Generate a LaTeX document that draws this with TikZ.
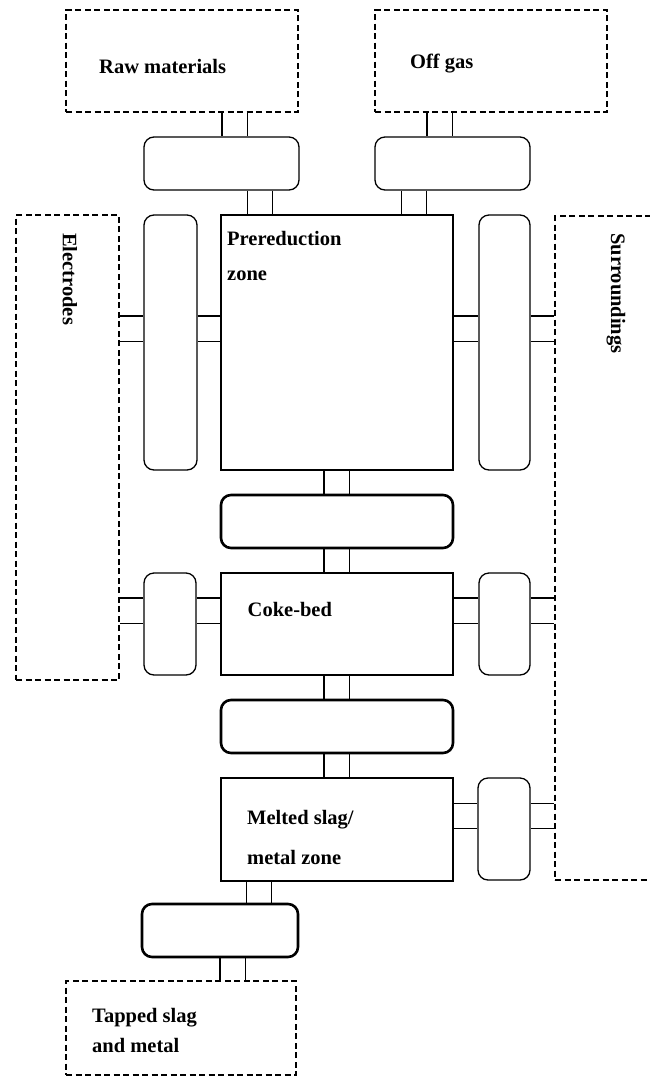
\documentclass[tikz,border=0pt]{standalone}
\usepackage{fontspec}
\setmainfont{Liberation Serif}
\usetikzlibrary{backgrounds}
\begin{document}
\begin{tikzpicture}[x=1pt, y=-1pt,
    box/.style 2 args={minimum width=#1pt, minimum height=#2pt, inner sep=0pt},
    zone/.style={draw, line width=2.6pt},
    valve/.style={draw, rounded corners=10pt, line width=1.3pt},
    thickvalve/.style={valve, line width=2.6pt},
    outside/.style={draw, dash pattern=on 6pt off 3.5pt, line width=1.5pt},
    pipe/.style={draw, double, line width=1.3pt, double distance=24pt},
    lbl/.style={font=\fontsize{20.5}{24}\selectfont\bfseries, inner sep=0pt, anchor=base west}]

    \useasboundingbox (0,0) rectangle (650,1077);

    % Outside boxes (dashed)
    \node[outside, box={232}{102}] (raw) at (182,61) {};
    \node[outside, box={232}{102}] (gas) at (491,61) {};
    \node[outside, box={103}{465}] (elec) at (67.5,447.5) {};
    \node[outside, box={115}{664}] (surr) at (612.5,548) {};
    \node[outside, box={230}{94}] (tap) at (181,1028) {};

    % Zones
    \node[zone, box={232}{255}] (pre) at (337,342.5) {};
    \node[zone, box={232}{102}] (coke) at (337,624) {};
    \node[zone, box={232}{103}] (melt) at (337,829.5) {};

    % Rounded boxes between the zones
    \node[valve, box={155}{53}] (topL) at (221.5,163.5) {};
    \node[valve, box={155}{53}] (topR) at (452.5,163.5) {};
    \node[valve, box={53}{255}] (sideL) at (170.5,342.5) {};
    \node[valve, box={51}{255}] (sideR) at (504.5,342.5) {};
    \node[valve, box={52}{102}] (cokeL) at (170,624) {};
    \node[valve, box={51}{102}] (cokeR) at (504.5,624) {};
    \node[valve, box={52}{102}] (meltR) at (504,829) {};
    \node[thickvalve, box={232}{53}] (mid1) at (337,521.5) {};
    \node[thickvalve, box={232}{53}] (mid2) at (337,726.5) {};
    \node[thickvalve, box={156}{53}] (tapV) at (220,930.5) {};

    % Labels
    \node[lbl] (rawT) at (99,73) {Raw materials};
    \node[lbl] (gasT) at (410,68) {Off gas};
    \node[lbl] (preT) at (227,245) {Prereduction};
    \node[lbl] (preT2) at (227,280.5) {zone};
    \node[lbl] (cokeT) at (247.5,616) {Coke-bed};
    \node[lbl] (meltT) at (247,824) {Melted slag/};
    \node[lbl] (meltT2) at (247,864) {metal zone};
    \node[lbl] (tapT) at (92,1022) {Tapped slag};
    \node[lbl] (tapT2) at (92,1052.5) {and metal};
    \node[lbl, anchor=west, rotate=-90] (elecT) at (70,233) {Electrodes};
    \node[lbl, anchor=west, rotate=-90] (surrT) at (616,233) {Surroundings};

    % Pipe columns and rows
    \coordinate (colRaw) at (234.5,0);
    \coordinate (colRawIn) at (260,0);
    \coordinate (colGas) at (439.5,0);
    \coordinate (colGasIn) at (414,0);
    \coordinate (colMid) at (336.5,0);
    \coordinate (colTap) at (259,0);
    \coordinate (colTapOut) at (232.5,0);
    \coordinate (rowPre) at (0,328.5);
    \coordinate (rowCoke) at (0,610.5);
    \coordinate (rowMelt) at (0,816);

    \begin{scope}[on background layer]
    % Vertical pipes
    \draw[pipe] (raw.south -| colRaw) -- (topL.north -| colRaw);
    \draw[pipe] (topL.south -| colRawIn) -- (pre.north -| colRawIn);
    \draw[pipe] (gas.south -| colGas) -- (topR.north -| colGas);
    \draw[pipe] (topR.south -| colGasIn) -- (pre.north -| colGasIn);
    \foreach \a/\b in {pre/mid1, mid1/coke, coke/mid2, mid2/melt}
        \draw[pipe] (\a.south -| colMid) -- (\b.north -| colMid);
    \draw[pipe] (melt.south -| colTap) -- (tapV.north -| colTap);
    \draw[pipe] (tapV.south -| colTapOut) -- (tap.north -| colTapOut);

    % Horizontal pipes
    \foreach \a/\b in {elec/sideL, sideL/pre, pre/sideR, sideR/surr}
        \draw[pipe] (\a.east |- rowPre) -- (\b.west |- rowPre);
    \foreach \a/\b in {elec/cokeL, cokeL/coke, coke/cokeR, cokeR/surr}
        \draw[pipe] (\a.east |- rowCoke) -- (\b.west |- rowCoke);
    \foreach \a/\b in {melt/meltR, meltR/surr}
        \draw[pipe] (\a.east |- rowMelt) -- (\b.west |- rowMelt);
    \end{scope}

\end{tikzpicture}
\end{document}
